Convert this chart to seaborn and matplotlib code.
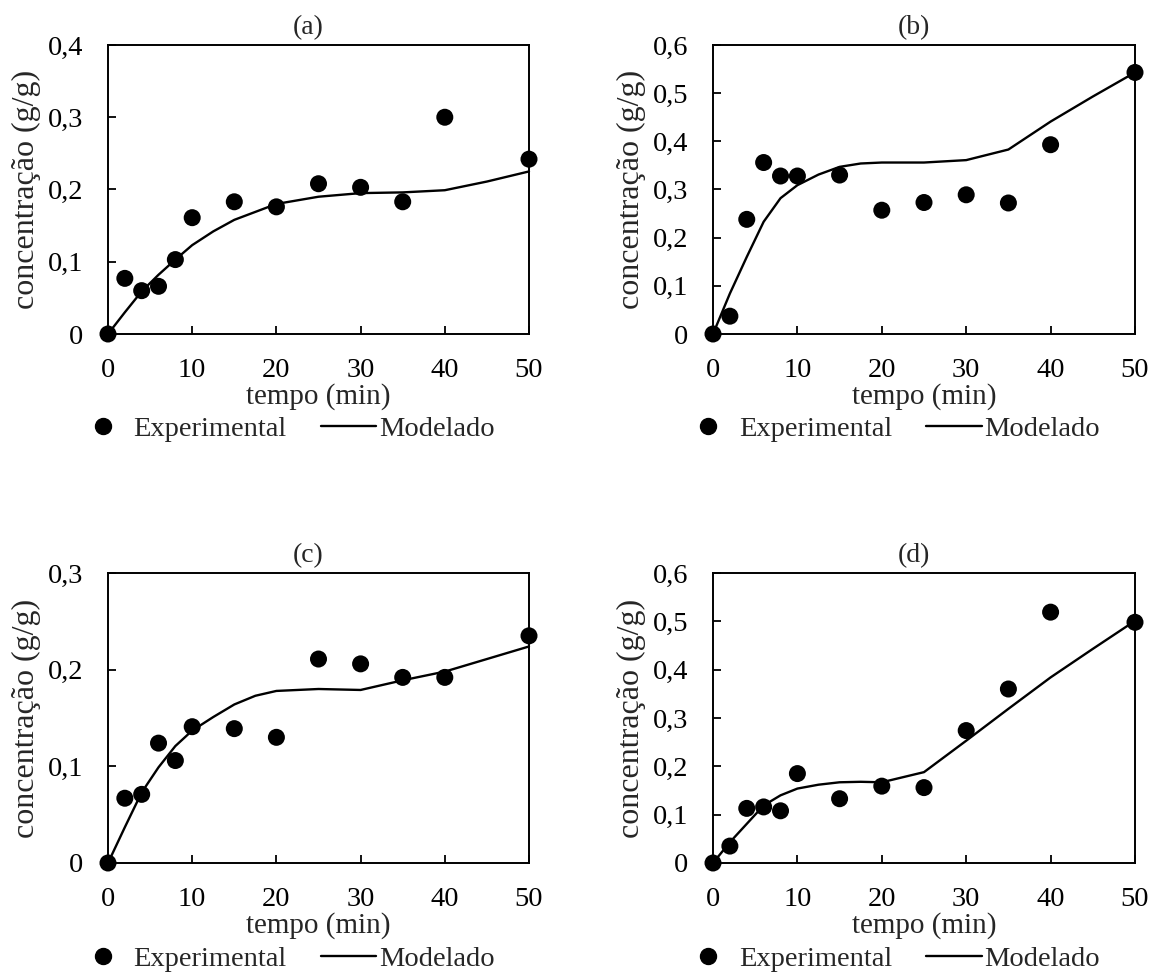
import numpy as np
import pandas as pd
import matplotlib
matplotlib.use("Agg")
import matplotlib.pyplot as plt
import seaborn as sns
from matplotlib.lines import Line2D
from matplotlib.ticker import FuncFormatter, MultipleLocator

# ---- data ----
tempo_exp = [0, 2, 4, 6, 8, 10, 15, 20, 25, 30, 35, 40, 50]
tempo_mod = [0, 2, 4, 6, 8, 10, 12.5, 15, 17.5, 20, 25, 30, 35, 40, 45, 50]

exp_a = [0, 0.077, 0.060, 0.066, 0.103, 0.161, 0.183, 0.176, 0.208, 0.203, 0.183, 0.300, 0.242]
mod_a = [0, 0.030, 0.059, 0.082, 0.103, 0.123, 0.142, 0.158, 0.169, 0.180, 0.190, 0.195, 0.196, 0.199, 0.211, 0.225]

exp_b = [0, 0.037, 0.238, 0.356, 0.328, 0.328, 0.330, 0.257, 0.273, 0.289, 0.272, 0.393, 0.543]
mod_b = [0, 0.084, 0.160, 0.233, 0.282, 0.309, 0.331, 0.347, 0.354, 0.356, 0.356, 0.361, 0.383, 0.441, 0.493, 0.543]

exp_c = [0, 0.067, 0.071, 0.124, 0.106, 0.141, 0.139, 0.130, 0.211, 0.206, 0.192, 0.192, 0.235]
mod_c = [0, 0.037, 0.073, 0.099, 0.121, 0.137, 0.151, 0.164, 0.173, 0.178, 0.180, 0.179, 0.189, 0.198, 0.211, 0.224]

exp_d = [0, 0.035, 0.113, 0.116, 0.108, 0.185, 0.133, 0.159, 0.156, 0.274, 0.360, 0.519, 0.498]
mod_d = [0, 0.043, 0.081, 0.119, 0.140, 0.154, 0.162, 0.167, 0.168, 0.167, 0.188, 0.253, 0.319, 0.384, 0.443, 0.501]

panel_titles = ["(a)", "(b)", "(c)", "(d)"]
y_max = [0.4, 0.6, 0.3, 0.6]
x_ticks = [0, 10, 20, 30, 40, 50]

XLABEL = "tempo (min)"
YLABEL = "concentração (g/g)"
LEG_EXP = "Experimental"
LEG_MOD = "Modelado"

# ---- style ----
sns.set_style("white")
plt.rcParams["font.family"] = ["Liberation Serif", "DejaVu Serif"]
plt.rcParams["axes.linewidth"] = 1.4

W, H = 1152, 973
fig = plt.figure(figsize=(W / 100, H / 100), dpi=100)

# axes boxes in pixels (left, right, top, bottom)
boxes = [(108, 529, 45, 334), (713, 1135, 45, 334),
         (108, 529, 573, 863), (713, 1135, 573, 863)]

exp_series = [exp_a, exp_b, exp_c, exp_d]
mod_series = [mod_a, mod_b, mod_c, mod_d]


def fmt_comma(v, pos):
    if abs(v) < 1e-9:
        return "0"
    return f"{v:.1f}".replace(".", ",")


for i in range(4):
    l, r, t, b = boxes[i]
    ax = fig.add_axes([l / W, 1 - b / H, (r - l) / W, (b - t) / H])

    df_exp = pd.DataFrame({"tempo": tempo_exp, "conc": exp_series[i]})
    df_mod = pd.DataFrame({"tempo": tempo_mod, "conc": mod_series[i]})

    sns.lineplot(data=df_mod, x="tempo", y="conc", ax=ax, color="black",
                 linewidth=1.7, clip_on=False, zorder=2)
    sns.scatterplot(data=df_exp, x="tempo", y="conc", ax=ax, color="black",
                    s=150, edgecolor="none", clip_on=False, zorder=3)

    ax.set_xlim(0, 50)
    ax.set_ylim(0, y_max[i])
    ax.set_xticks(x_ticks)
    ax.yaxis.set_major_locator(MultipleLocator(0.1))
    ax.yaxis.set_major_formatter(FuncFormatter(fmt_comma))
    ax.tick_params(axis="both", direction="in", length=6, width=1.3,
                   labelsize=20.5, colors="black", bottom=True, left=True,
                   top=False, right=False)
    ax.tick_params(axis="x", pad=17)
    ax.tick_params(axis="y", pad=18)

    for sp in ax.spines.values():
        sp.set_color("black")
        sp.set_linewidth(1.4)

    ax.set_xlabel(XLABEL, fontsize=21, labelpad=0)
    ax.set_ylabel(YLABEL, fontsize=23)
    ax.yaxis.set_label_coords(-0.158, 0.5)
    ax.set_title(panel_titles[i], fontsize=20, pad=8, x=0.475)

    handles = [
        Line2D([], [], marker="o", linestyle="none", color="black", markersize=11.5),
        Line2D([], [], color="black", linewidth=1.7),
    ]
    ax.legend(handles, [LEG_EXP, LEG_MOD], loc="center",
              bbox_to_anchor=(0.42, -0.33), ncol=2, frameon=False,
              fontsize=20.5, handlelength=1.95, handletextpad=0.1,
              columnspacing=1.2, borderaxespad=0, borderpad=0)

fig.savefig("out.png", dpi=100, facecolor="white")
